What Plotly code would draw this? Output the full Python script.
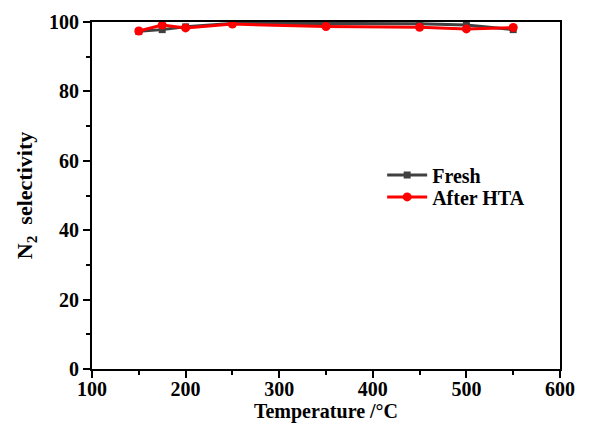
import plotly.graph_objects as go

temps = [150, 175, 200, 250, 350, 450, 500, 550]
fresh = [97.3, 97.8, 98.6, 99.6, 99.6, 99.5, 99.1, 97.8]
after_hta = [97.4, 99.1, 98.3, 99.4, 98.7, 98.5, 98.0, 98.4]

fam = "Liberation Serif, Times New Roman, serif"
font = dict(family=fam, size=20, color="black")

fig = go.Figure()
fig.add_trace(go.Scatter(x=temps, y=fresh, name="<b>Fresh</b>", mode="lines+markers",
                         line=dict(color="#404040", width=3),
                         marker=dict(symbol="square", size=7, color="#404040"),
                         legend="legend", showlegend=True))
fig.add_trace(go.Scatter(x=temps, y=after_hta, name="<b>After HTA</b>", mode="lines+markers",
                         line=dict(color="#ff0000", width=3),
                         marker=dict(symbol="circle", size=9, color="#ff0000"),
                         legend="legend2", showlegend=True))

axis_common = dict(showline=True, linecolor="black", linewidth=2, mirror=True,
                   ticks="outside", ticklen=7, tickwidth=2, tickcolor="black",
                   showgrid=False, zeroline=False, automargin=False,
                   tickfont=dict(family=fam, size=20, color="black", weight="bold"))

fig.update_xaxes(range=[100, 600], tickvals=[100, 200, 300, 400, 500, 600],
                 ticklabelstandoff=-6,
                 minor=dict(ticks="outside", ticklen=4, tickwidth=2, tickcolor="black", dtick=50, tick0=100),
                 title=dict(text="<b>Temperature /°C</b>", font=dict(family=fam, size=20, color="black"), standoff=3),
                 **axis_common)
fig.update_yaxes(range=[0, 100], tickvals=[0, 20, 40, 60, 80, 100],
                 minor=dict(ticks="outside", ticklen=4, tickwidth=2, tickcolor="black", dtick=10, tick0=0),
                 title=dict(text="<b>N<sub>2</sub>  selectivity</b>", font=dict(family=fam, size=22, color="black"), standoff=10),
                 **axis_common)

leg = dict(xanchor="left", yanchor="middle", bgcolor="rgba(0,0,0,0)", itemwidth=40,
           visible=True, font=dict(family=fam, size=20, color="black"))

fig.update_layout(
    width=595, height=441,
    margin=dict(l=92, r=35, t=22, b=72),
    paper_bgcolor="white", plot_bgcolor="white",
    font=font,
    showlegend=True,
    legend=dict(x=0.62, y=0.559, **leg),
    legend2=dict(x=0.62, y=0.496, **leg),
)

fig.write_html("out.html")
